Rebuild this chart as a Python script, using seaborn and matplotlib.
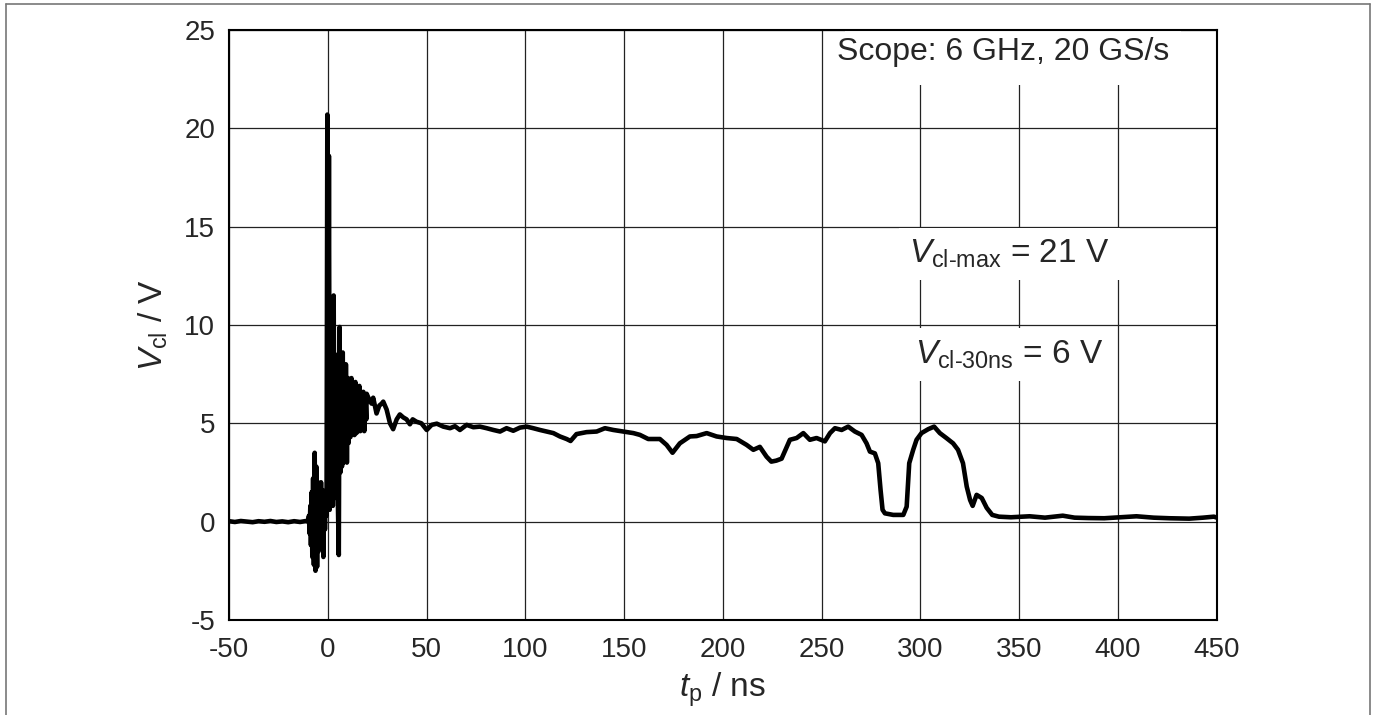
import matplotlib
matplotlib.use("Agg")
import matplotlib.pyplot as plt
from matplotlib.lines import Line2D
from matplotlib.patches import Rectangle
import numpy as np
import pandas as pd
import seaborn as sns

# values (t in ns, V in volts)
t_base = [-50, -47, -44, -41, -38, -35, -32, -29, -26, -23, -20, -17, -14, -11, -10]
v_base = [0.02, -0.02, 0.03, 0.0, -0.03, 0.02, -0.01, 0.03, -0.02, 0.01, -0.03, 0.02, -0.02, 0.03, 0.0]

# ringing around the pulse edge
t_ring = [-9.5, -9.2, -8.8, -8.5, -8.1, -7.8, -7.4, -7.0, -6.6, -6.2, -5.8, -5.4, -5.0, -4.6,
          -4.2, -3.8, -3.4, -3.0, -2.6, -2.2, -1.8, -1.4, -1.0, -0.6, -0.2, 0.2, 0.6, 1.0,
          1.4, 1.8, 2.2, 2.6, 3.0, 3.4, 3.8, 4.2, 4.6, 5.0, 5.6, 6.0, 6.4, 6.8, 7.2, 7.6,
          8.0, 8.4, 8.8, 9.2, 9.7, 10.2, 10.6, 11.0, 11.5, 12.0, 12.5, 13.0, 13.5, 14.0,
          14.5, 15.0, 15.5, 16.0, 16.5, 17.0, 17.5, 18.0, 18.5, 19.0, 19.5]
v_ring = [0.3, -0.6, 0.8, -1.2, 1.5, -1.8, 2.2, -2.2, 3.5, -2.5, 2.8, -2.3, 2.0, -1.5,
          1.8, -1.2, 2.0, -1.0, 1.6, -1.8, 1.2, -0.4, 1.5, 0.3, 20.7, 0.8, 18.6, 0.6,
          11.0, 1.0, 9.0, 0.8, 11.5, 1.2, 8.5, 1.5, 7.5, 1.8, -1.7, 9.9, 2.5, 8.5, 2.8, 8.6,
          3.0, 7.6, 3.5, 8.0, 3.0, 7.3, 4.0, 7.0, 4.3, 7.3, 4.5, 6.8, 4.4, 7.1,
          4.5, 6.6, 4.6, 6.9, 4.6, 6.5, 4.7, 6.6, 4.6, 6.4, 5.2]

# clamped plateau, dips and turn-off
t_tail = [19.7, 21.0, 22.2, 23.0, 24.7, 26.1, 27.3, 28.1, 29.8, 31.5, 33.1, 34.9, 36.5, 38.2,
          39.9, 41.6, 43.0, 44.9, 47.4, 50.1, 52.6, 55.2, 58.5, 61.9, 64.4, 66.9, 70.3, 73.7,
          77.0, 80.4, 83.8, 87.2, 90.5, 93.9, 97.3, 100.7, 104.0, 107.4, 110.8, 114.2, 117.5,
          120.9, 122.9, 125.9, 131.0, 136.1, 140.3, 144.5, 149.6, 154.7, 158.0, 162.2, 168.1,
          171.5, 174.5, 178.2, 183.3, 186.7, 191.8, 196.8, 201.9, 207.0, 212.0, 215.4, 218.7,
          222.1, 224.5, 227.0, 229.7, 233.9, 237.3, 240.7, 244.0, 247.4, 251.6, 254.2, 256.7,
          260.1, 263.4, 266.8, 270.2, 272.7, 274.4, 276.9, 278.6, 279.8, 280.8, 282.0, 286.2,
          291.3, 293.0, 294.3, 296.3, 298.0, 300.5, 303.9, 306.9, 309.8, 313.1, 316.5, 319.0,
          321.5, 323.4, 325.1, 326.4, 328.4, 331.0, 333.5, 336.3, 339.7, 345.8, 355.2, 363.0,
          372.0, 378.0, 385.0, 393.0, 401.0, 409.3, 418.0, 426.0, 436.0, 443.0, 448.5, 450.0]
v_tail = [6.5, 6.2, 6.0, 6.3, 5.5, 5.9, 6.0, 6.1, 5.7, 5.0, 4.7, 5.2, 5.45, 5.3,
          5.2, 4.95, 5.2, 5.08, 5.0, 4.66, 4.92, 4.98, 4.83, 4.75, 4.85, 4.66, 4.92, 4.8,
          4.83, 4.75, 4.66, 4.58, 4.75, 4.62, 4.78, 4.83, 4.75, 4.66, 4.58, 4.5, 4.33,
          4.2, 4.1, 4.45, 4.55, 4.58, 4.75, 4.66, 4.58, 4.5, 4.41, 4.2, 4.2,
          3.9, 3.5, 3.98, 4.33, 4.35, 4.5, 4.33, 4.25, 4.2, 3.9, 3.65, 3.8,
          3.3, 3.05, 3.1, 3.2, 4.16, 4.25, 4.5, 4.16, 4.25, 4.08, 4.5, 4.75,
          4.66, 4.83, 4.58, 4.41, 3.98, 3.56, 3.47, 2.97, 1.6, 0.6, 0.42, 0.34,
          0.34, 0.76, 2.97, 3.65, 4.16, 4.5, 4.7, 4.83, 4.5, 4.25, 3.98, 3.65,
          2.97, 1.78, 1.1, 0.8, 1.36, 1.2, 0.7, 0.34, 0.25, 0.22, 0.27, 0.2,
          0.3, 0.2, 0.18, 0.17, 0.22, 0.27, 0.2, 0.17, 0.15, 0.2, 0.25, 0.2]

x_ticks = [-50, 0, 50, 100, 150, 200, 250, 300, 350, 400, 450]
y_ticks = [-5, 0, 5, 10, 15, 20, 25]

df = pd.DataFrame({"t": t_base + t_ring + t_tail, "v": v_base + v_ring + v_tail})

sns.set_style("white")
plt.rcParams["font.family"] = ["Liberation Sans", "DejaVu Sans"]
plt.rcParams["mathtext.fontset"] = "custom"
plt.rcParams["mathtext.rm"] = "Liberation Sans"
plt.rcParams["mathtext.it"] = "Liberation Sans:italic"
plt.rcParams["axes.unicode_minus"] = False

fig = plt.figure(figsize=(13.75, 7.15), dpi=100)
ax = fig.add_axes([0.1665, 0.133, 0.7185, 0.825])

sns.lineplot(data=df, x="t", y="v", ax=ax, color="black", lw=3.3,
             estimator=None, sort=False, zorder=2)

ax.set_xlim(-50, 450)
ax.set_ylim(-5, 25)
ax.set_xticks(x_ticks)
ax.set_yticks(y_ticks)
ax.grid(True, color="#222222", lw=0.9)
ax.set_axisbelow(True)
ax.tick_params(length=0, labelsize=20)
ax.tick_params(axis="x", pad=12)
ax.tick_params(axis="y", pad=10)
for s in ax.spines.values():
    s.set_color("black")
    s.set_linewidth(1.5)
    s.set_zorder(5)

ax.set_xlabel(r"$t_{\mathrm{p}}$ / ns", fontsize=24, labelpad=6)
ax.set_ylabel(r"$V_{\mathrm{cl}}$ / V", fontsize=24, labelpad=10)

# white boxes behind the notes cut the grid lines, as in the original
ax.add_patch(Rectangle((262, 22.2), 170, 2.8, fc="white", ec="none", zorder=1.4))
ax.text(342, 23.9, "Scope: 6 GHz, 20 GS/s", fontsize=23, ha="center", va="center",
        zorder=1.5)
box = dict(boxstyle="square,pad=0.3", fc="white", ec="none")
ax.text(345, 13.6, r"$V_{\mathrm{cl}\text{-}\mathrm{max}}$ = 21 V", fontsize=24,
        ha="center", va="center", bbox=box, zorder=1.5)
ax.text(345, 8.5, r"$V_{\mathrm{cl}\text{-}\mathrm{30ns}}$ = 6 V", fontsize=24,
        ha="center", va="center", bbox=box, zorder=1.5)

# thin frame round the figure (left, top, right)
for xs, ys in [([0.004, 0.004], [0.0, 0.994]), ([0.004, 0.996], [0.994, 0.994]),
               ([0.996, 0.996], [0.0, 0.994])]:
    fig.add_artist(Line2D(xs, ys, color="#777777", lw=1.2))

fig.savefig("out.png", dpi=100)
